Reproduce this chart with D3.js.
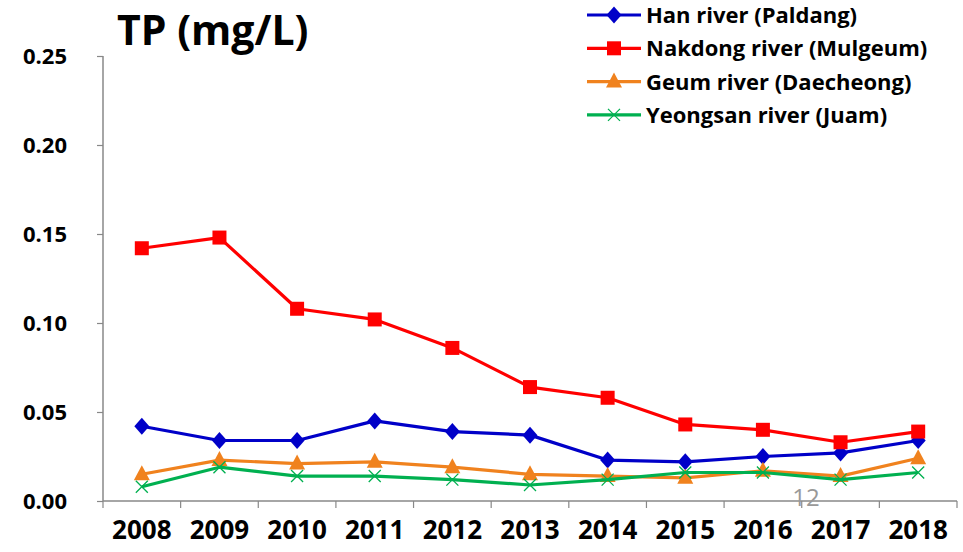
<!DOCTYPE html>
<html><head><meta charset="utf-8">
<script src="https://cdn.jsdelivr.net/npm/d3@7"></script>
<style>body{margin:0;background:#fff}svg{display:block}</style>
</head><body><svg id="c" width="963" height="552"></svg>
<script>
const years = ["2008","2009","2010","2011","2012","2013","2014","2015","2016","2017","2018"];
const han = [0.042,0.034,0.034,0.045,0.039,0.037,0.023,0.022,0.025,0.027,0.034];
const nakdong = [0.142,0.148,0.108,0.102,0.086,0.064,0.058,0.043,0.040,0.033,0.039];
const geum = [0.015,0.023,0.021,0.022,0.019,0.015,0.014,0.013,0.017,0.014,0.024];
const yeongsan = [0.008,0.019,0.014,0.014,0.012,0.009,0.012,0.016,0.016,0.012,0.016];
const yTicks = [0,0.05,0.10,0.15,0.20,0.25];
const seriesNames = ["Han river (Paldang)","Nakdong river (Mulgeum)","Geum river (Daecheong)","Yeongsan river (Juam)"];

const font = "'Open Sans', sans-serif";
const svg = d3.select("#c");
const x = d3.scaleBand().domain(years).range([103,957]);
const y = d3.scaleLinear().domain([0,0.25]).range([501,56]);

const series = [
  {name:seriesNames[0], data:han, color:"#0000c8", marker:"diamond"},
  {name:seriesNames[1], data:nakdong, color:"#ff0000", marker:"square"},
  {name:seriesNames[2], data:geum, color:"#f0821e", marker:"triangle"},
  {name:seriesNames[3], data:yeongsan, color:"#00b050", marker:"cross"}
];

// axes
const yAxis = d3.axisLeft(y).tickValues(yTicks).tickFormat(d3.format(".2f")).tickSize(6);
const gy = svg.append("g").attr("transform","translate(103,0)").call(yAxis);
gy.select(".domain").attr("stroke","#888").attr("stroke-width",1.5).attr("d","M0,56V501");
gy.selectAll(".tick line").attr("stroke","#888").attr("stroke-width",1.2);
gy.selectAll(".tick text").attr("font-family",font).attr("font-weight","bold").attr("font-size",22).attr("fill","#000").attr("x",-36);

const xAxis = d3.axisBottom(x).tickSize(0).tickPadding(20);
const gx = svg.append("g").attr("transform","translate(0,501)").call(xAxis);
gx.select(".domain").attr("stroke","#888").attr("stroke-width",1.5).attr("d","M103,0H957");
gx.selectAll(".tick text").attr("font-family",font).attr("font-weight","bold").attr("font-size",26).attr("fill","#000");
// category boundary ticks
gx.selectAll(".bt").data(years.concat(["end"])).enter().append("line")
  .attr("x1",(d,i)=> i<years.length ? x(d) : x.range()[1])
  .attr("x2",(d,i)=> i<years.length ? x(d) : x.range()[1])
  .attr("y1",0).attr("y2",7).attr("stroke","#888").attr("stroke-width",1.2);

// "12" page number
svg.append("text").attr("x",806).attr("y",506).attr("text-anchor","middle")
  .attr("font-family","'Open Sans', sans-serif").attr("font-size",24).attr("fill","#999").text("12");

function drawMarker(g, type, color, cx, cy){
  if(type==="diamond"){
    g.append("path").attr("d",`M${cx},${cy-8.5}L${cx+7.5},${cy}L${cx},${cy+8.5}L${cx-7.5},${cy}Z`).attr("fill",color);
  } else if(type==="square"){
    g.append("rect").attr("x",cx-7).attr("y",cy-7).attr("width",14).attr("height",14).attr("fill",color);
  } else if(type==="triangle"){
    g.append("path").attr("d",`M${cx},${cy-9}L${cx+8},${cy+6}L${cx-8},${cy+6}Z`).attr("fill",color);
  } else {
    g.append("path").attr("d",`M${cx-6},${cy-6}L${cx+6},${cy+6}M${cx+6},${cy-6}L${cx-6},${cy+6}`).attr("stroke",color).attr("stroke-width",1.3).attr("fill","none");
  }
}

const line = d3.line().x((d,i)=>x(years[i])+x.bandwidth()/2).y(d=>y(d));
series.forEach(s=>{
  const g = svg.append("g");
  g.append("path").datum(s.data).attr("d",line).attr("fill","none").attr("stroke",s.color).attr("stroke-width",3.2).attr("stroke-linejoin","round");
  s.data.forEach((v,i)=>drawMarker(g,s.marker,s.color,x(years[i])+x.bandwidth()/2,y(v)));
});

// title
svg.append("text").attr("x",117).attr("y",45).attr("font-family",font).attr("font-weight","bold")
  .attr("font-size",41).attr("fill","#000").text("TP (mg/L)");

// legend
const lg = svg.append("g");
series.forEach((s,i)=>{
  const cy = 15 + i*33.3;
  lg.append("line").attr("x1",587).attr("x2",641).attr("y1",cy).attr("y2",cy).attr("stroke",s.color).attr("stroke-width",3.2);
  drawMarker(lg,s.marker,s.color,614,cy);
  lg.append("text").attr("x",646).attr("y",cy+8).attr("font-family",font).attr("font-weight","bold")
    .attr("font-size",22).attr("fill","#000").text(s.name);
});
</script></body></html>
